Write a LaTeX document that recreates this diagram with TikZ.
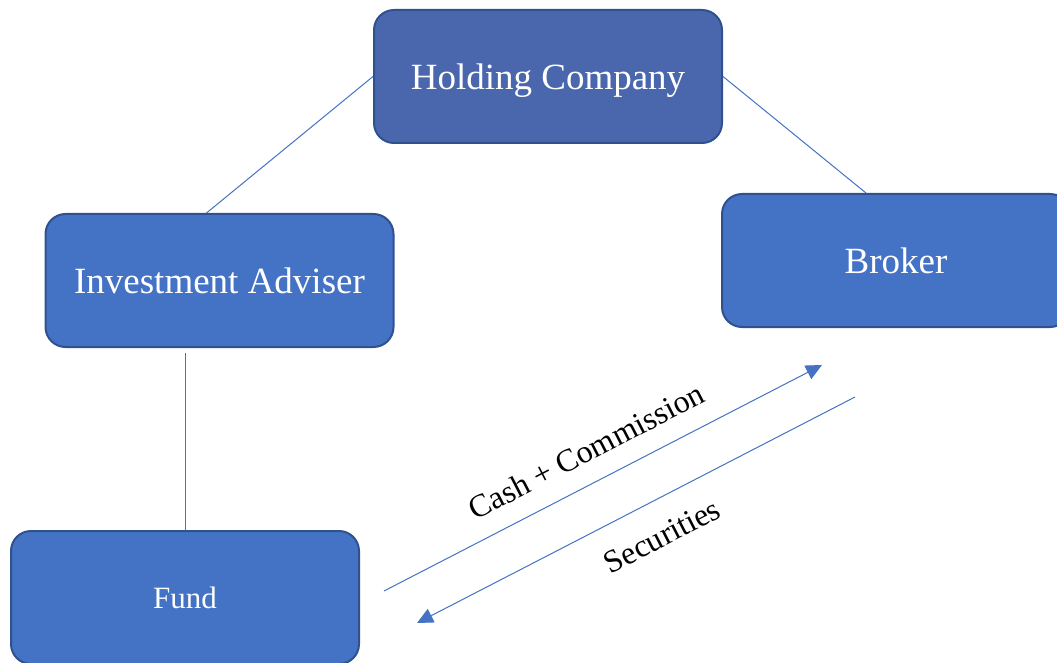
\documentclass[tikz,border=0pt]{standalone}
\usepackage{fontspec}
\setmainfont{Liberation Serif}
\usetikzlibrary{arrows.meta}
\definecolor{boxfill}{HTML}{4472C4}
\definecolor{topfill}{HTML}{4A67AE}
\definecolor{boxline}{HTML}{2F528F}
\definecolor{linkcol}{HTML}{4472C4}
\tikzset{
  entity/.style={draw=boxline, line width=2pt, fill=boxfill, rounded corners=20pt,
    minimum width=348pt, minimum height=133pt, inner sep=0pt, text=white,
    text depth=0pt, font=\fontsize{37}{44}\selectfont},
  link/.style={draw=linkcol, line width=1pt},
  flow/.style={link, -{Triangle[length=16pt,width=15pt]}, color=linkcol},
  flowlabel/.style={font=\fontsize{32}{38}\selectfont, rotate=27.3, inner sep=0pt}
}
\begin{document}
\begin{tikzpicture}[x=1pt,y=-1pt]
\useasboundingbox (0,0) rectangle (1057,663);
\node[entity, fill=topfill] (hc) at (548,76.5) {Holding Company};
\node[entity] (ia) at (219.5,280.5) {Investment Adviser};
\node[entity] (br) at (896,260.5) {Broker};
\node[entity, font=\fontsize{31}{37}\selectfont] (fund) at (185,597.5) {Fund};
\draw[link] (hc.west) -- ([xshift=-13pt]ia.north);
\draw[link] (hc.east) -- ([xshift=-30pt]br.north);
\draw[link] ([yshift=-5pt]ia.south -| fund.north) -- (fund.north);
\coordinate (c1s) at (384,591);
\coordinate (c1e) at (822,365);
\coordinate (c2s) at (855,397);
\coordinate (c2e) at (417,623);
\draw[flow] (c1s) -- (c1e);
\draw[flow] (c2s) -- (c2e);
\node[flowlabel] (lcash) at (586,451) {Cash + Commission};
\node[flowlabel] (lsec) at (662,536) {Securities};
\end{tikzpicture}
\end{document}
